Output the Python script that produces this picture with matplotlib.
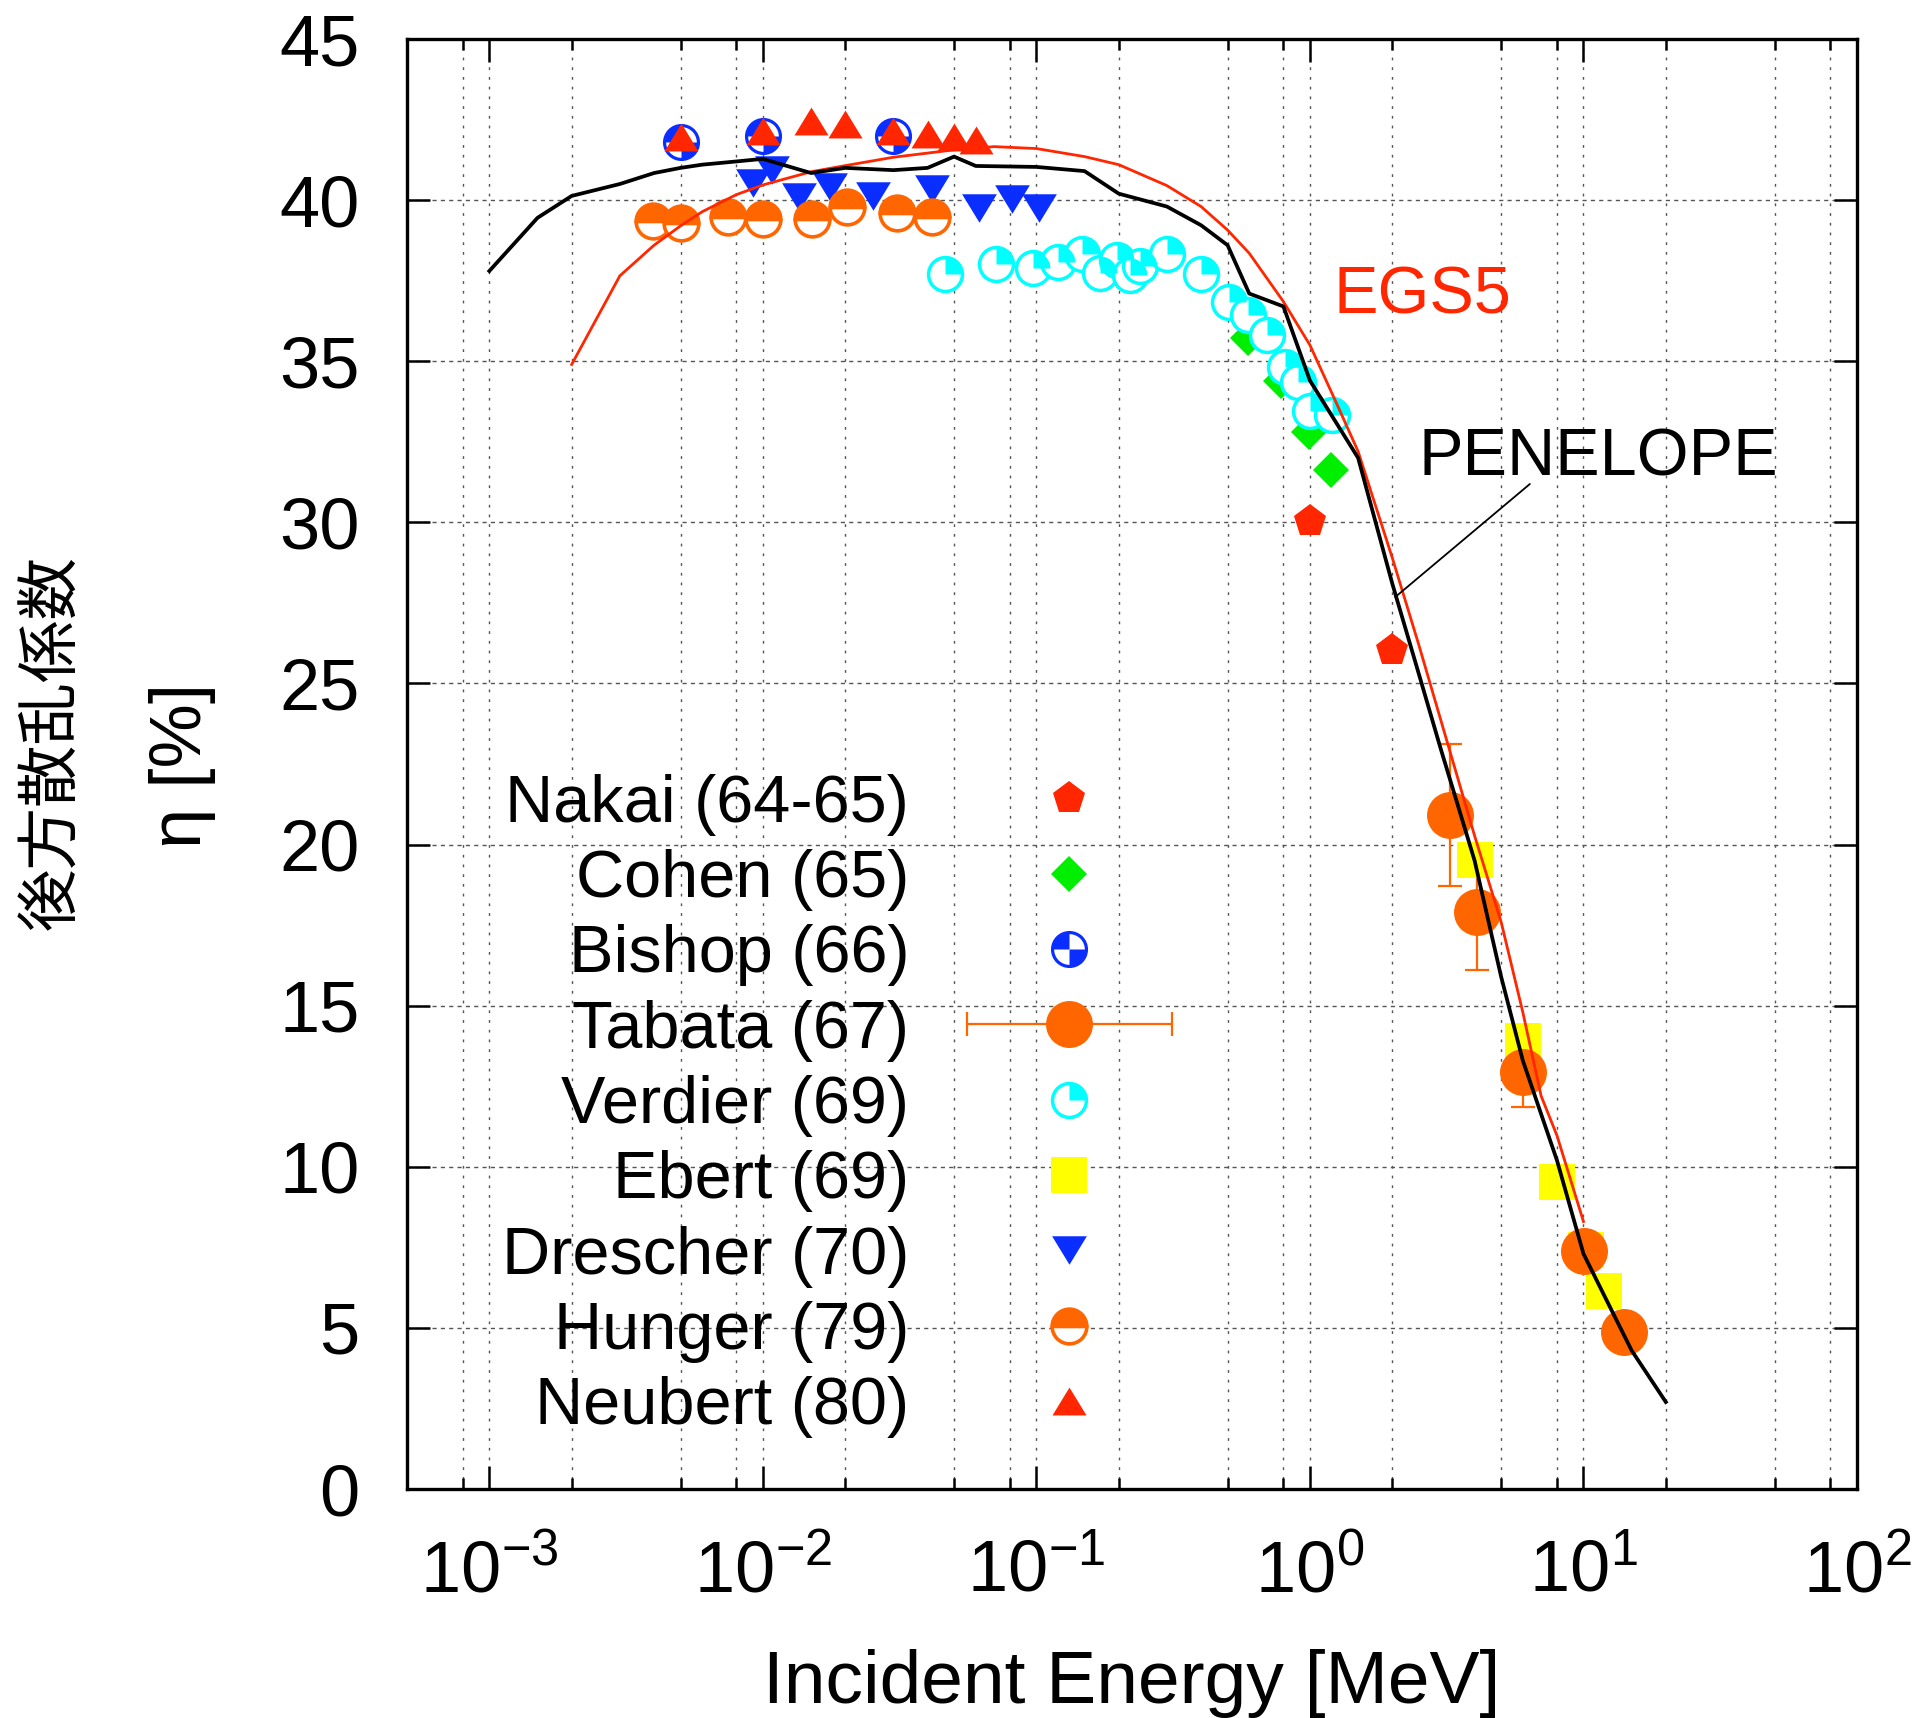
import numpy as np
import matplotlib
matplotlib.use("Agg")
import matplotlib.pyplot as plt
from matplotlib.path import Path
from matplotlib.ticker import LogLocator, NullFormatter
from matplotlib.container import ErrorbarContainer
from matplotlib.legend_handler import HandlerErrorbar, HandlerTuple

plt.rcParams['font.family'] = ['Liberation Sans', 'Noto Sans CJK JP', 'DejaVu Sans']
plt.rcParams['mathtext.fontset'] = 'custom'
plt.rcParams['mathtext.rm'] = 'Liberation Sans'
plt.rcParams['mathtext.it'] = 'Liberation Sans:italic'
plt.rcParams['mathtext.bf'] = 'Liberation Sans:bold'

# ---------------- data ----------------
penelope_E = [1e-3, 1.5e-3, 2e-3, 3e-3, 4e-3, 5e-3, 6e-3, 8e-3, 1e-2, 1.5e-2, 2e-2, 3e-2,
              4e-2, 5e-2, 6e-2, 0.1, 0.15, 0.2, 0.3, 0.4, 0.5, 0.6, 0.8, 1.0, 1.5, 2.0,
              2.5, 3.0, 4.0, 5.0, 6.0, 8.0, 10.0, 12.0, 15.0, 20.0]
penelope_eta = [37.8, 39.45, 40.13, 40.5, 40.84, 41.0, 41.1, 41.2, 41.28, 40.84, 41.0, 40.93,
                41.0, 41.35, 41.06, 41.03, 40.9, 40.2, 39.8, 39.22, 38.6, 37.1, 36.7, 34.4, 32.0, 28.1,
                25.3, 23.0, 19.5, 15.9, 13.3, 10.2, 7.3, 5.95, 4.3, 2.7]

egs5_E = [2e-3, 3e-3, 4e-3, 5e-3, 6e-3, 8e-3, 1e-2, 1.5e-2, 2e-2, 3e-2, 5e-2, 7e-2, 0.1, 0.15,
          0.2, 0.3, 0.4, 0.5, 0.6, 0.8, 1.0, 1.25, 1.5, 2.0, 2.5, 3.0, 4.0, 5.0, 6.0, 7.0, 8.0, 10.0]
egs5_eta = [34.9, 37.65, 38.6, 39.2, 39.64, 40.17, 40.47, 40.88, 41.07, 41.33, 41.56, 41.66, 41.6, 41.35,
            41.1, 40.45, 39.8, 39.07, 38.35, 36.85, 35.5, 33.7, 32.2, 28.9, 26.2, 23.9, 20.27, 17.6, 14.8, 12.2, 10.97, 8.3]

nakai_E = [1.0, 2.0]
nakai_eta = [30.04, 26.05]

cohen_E = [0.596, 0.785, 0.99, 1.195]
cohen_eta = [35.71, 34.4, 32.8, 31.63]

bishop_E = [5e-3, 1e-2, 3e-2]
bishop_eta = [41.8, 42.0, 42.0]

tabata_E = [3.24, 4.09, 6.03, 10.08, 14.04]
tabata_eta = [20.92, 17.92, 12.95, 7.39, 4.86]
tabata_err = [2.2, 1.8, 1.1, 0.5, 0.4]

verdier_E = [0.0463, 0.0713, 0.0975, 0.120, 0.1465, 0.171, 0.197, 0.220, 0.239, 0.30,
             0.40, 0.504, 0.596, 0.695, 0.811, 0.907, 1.0, 1.20]
verdier_eta = [37.71, 38.02, 37.88, 38.09, 38.33, 37.75, 38.14, 37.68, 37.94, 38.33,
               37.71, 36.85, 36.44, 35.82, 34.83, 34.37, 33.44, 33.34]

ebert_E = [4.01, 6.0, 7.98, 10.2, 11.9]
ebert_eta = [19.52, 13.91, 9.54, 7.42, 6.14]

drescher_E = [9.2e-3, 1.08e-2, 1.35e-2, 1.76e-2, 2.52e-2, 4.14e-2, 6.18e-2, 8.16e-2, 0.1026]
drescher_eta = [40.53, 40.94, 40.1, 40.4, 40.14, 40.36, 39.74, 40.02, 39.74]

hunger_E = [3.98e-3, 5e-3, 7.48e-3, 1.0e-2, 1.51e-2, 2.03e-2, 3.09e-2, 4.14e-2]
hunger_eta = [39.36, 39.3, 39.49, 39.41, 39.41, 39.8, 39.59, 39.49]

neubert_E = [5e-3, 1e-2, 1.5e-2, 2e-2, 3e-2, 4e-2, 5e-2, 6e-2]
neubert_eta = [41.96, 42.16, 42.47, 42.36, 42.16, 42.06, 41.95, 41.86]

labels = ['Nakai (64-65)', 'Cohen (65)', 'Bishop (66)', 'Tabata (67)', 'Verdier (69)',
          'Ebert (69)', 'Drescher (70)', 'Hunger (79)', 'Neubert (80)']

# ---------------- colours ----------------
RED = '#FF2600'
GREEN = '#00EE00'
BLUE = '#0A2EFF'
ORANGE = '#FF6600'
CYAN = '#00FFFF'
YELLOW = '#FFFF00'

# ---------------- markers ----------------
tri_up = Path([(0, 0.82), (-1, -0.82), (1, -0.82), (0, 0.82)], closed=True)
tri_dn = Path([(0, -0.82), (-1, 0.82), (1, 0.82), (0, -0.82)], closed=True)
quad_tr = Path.wedge(0, 90)
quad_bishop = Path.make_compound_path(Path.wedge(90, 180), Path.wedge(270, 360))

fig = plt.figure(figsize=(19.22, 17.18), dpi=100)
ax = fig.add_axes([407/1922, 1 - 1489/1718, 1450/1922, 1450/1718])
ax.set_xscale('log')
ax.set_xlim(5e-4, 100)
ax.set_ylim(0, 45)

# grid
ax.xaxis.set_major_locator(LogLocator(base=10, numticks=20))
ax.xaxis.set_minor_locator(LogLocator(base=10, subs=[2, 5, 8], numticks=20))
ax.xaxis.set_minor_formatter(NullFormatter())
ax.set_yticks(np.arange(0, 46, 5))
ax.grid(True, which='both', axis='x', color='#555555', linestyle=(0, (2, 5)), linewidth=1.0)
ax.grid(True, which='major', axis='y', color='#555555', linestyle=(0, (3, 3)), linewidth=1.0)
ax.set_axisbelow(True)

# data points
h_nakai, = ax.plot(nakai_E, nakai_eta, ls='none', marker='p', ms=24.5, color=RED, mec=RED, mew=0)
h_cohen, = ax.plot(cohen_E, cohen_eta, ls='none', marker='D', ms=18, color=GREEN, mec=GREEN, mew=0)
h_bish_o, = ax.plot(bishop_E, bishop_eta, ls='none', marker='o', ms=24.4, mfc='white', mec=BLUE, mew=2.3)
h_bish_q, = ax.plot(bishop_E, bishop_eta, ls='none', marker=quad_bishop, ms=24.4, mfc=BLUE, mec=BLUE, mew=0)
tab = ax.errorbar(tabata_E, tabata_eta, yerr=tabata_err, fmt='o', ms=33.8, color=ORANGE,
                  mec=ORANGE, ecolor=ORANGE, elinewidth=1.6, capsize=8.3, capthick=1.6)
tab[0].set_markeredgewidth(0)
h_ver_o, = ax.plot(verdier_E, verdier_eta, ls='none', marker='o', ms=24.4, mfc='white', mec=CYAN, mew=2.5)
h_ver_q, = ax.plot(verdier_E, verdier_eta, ls='none', marker=quad_tr, ms=24.4, mfc=CYAN, mec=CYAN, mew=0)
h_ebert, = ax.plot(ebert_E, ebert_eta, ls='none', marker='s', ms=26, color=YELLOW, mec=YELLOW, mew=0)
h_dres, = ax.plot(drescher_E, drescher_eta, ls='none', marker=tri_dn, ms=25, color=BLUE, mec=BLUE, mew=0)
h_hung, = ax.plot(hunger_E, hunger_eta, ls='none', marker='o', ms=25, fillstyle='top', mfc=ORANGE,
                  mfcalt='white', mec=ORANGE, mew=2.6)
h_neu, = ax.plot(neubert_E, neubert_eta, ls='none', marker=tri_up, ms=24.5, color=RED, mec=RED, mew=0)

# calculation curves
ax.plot(egs5_E, egs5_eta, color=RED, lw=2.0, zorder=5)
ax.plot(penelope_E, penelope_eta, color='black', lw=2.7, zorder=6)

ax.text(1.22, 37.0, 'EGS5', color=RED, fontsize=48, ha='left', va='center', zorder=7)
ax.text(2.49, 31.97, 'PENELOPE', color='black', fontsize=48, ha='left', va='center', zorder=7)
ax.annotate('', xy=(2.05, 27.68), xytext=(6.37, 31.19),
            arrowprops=dict(arrowstyle='-', color='black', lw=1.3, shrinkA=0, shrinkB=0), zorder=7)

# legend
tab_proxy = ax.errorbar([np.nan], [np.nan], xerr=[1.0], fmt='o', ms=33.8, color=ORANGE, mec=ORANGE,
                        ecolor=ORANGE, elinewidth=1.6, capsize=8.3, capthick=1.6)
tab_proxy[0].set_markeredgewidth(0)
handles = [h_nakai, h_cohen, (h_bish_o, h_bish_q), tab_proxy, (h_ver_o, h_ver_q), h_ebert,
           h_dres, h_hung, h_neu]
leg = ax.legend(handles, labels, loc='upper right', bbox_to_anchor=(1136/1922, 1 - 773.5/1718),
                bbox_transform=fig.transFigure, markerfirst=False, frameon=False, fontsize=48,
                handlelength=2.0, handletextpad=1.4, labelspacing=0.2, borderpad=0, borderaxespad=0,
                numpoints=1,
                handler_map={ErrorbarContainer: HandlerErrorbar(xerr_size=1.54),
                             tuple: HandlerTuple(ndivide=1)})

# axes styling
for s in ax.spines.values():
    s.set_linewidth(2.4)
ax.tick_params(which='both', direction='in', top=True, right=True, width=1.8)
ax.tick_params(which='major', length=16.5)
ax.tick_params(which='minor', length=8)
ax.tick_params(axis='x', which='major', labelsize=52, pad=36)
ax.tick_params(axis='y', which='major', labelsize=52, pad=34)

ax.set_xlabel('Incident Energy [MeV]', fontsize=54, labelpad=30)

fig.text(52/1922, 1 - 742/1718, '後方散乱係数', rotation=90, fontsize=45,
         family=['Noto Sans CJK JP', 'DejaVu Sans'], ha='center', va='center')
fig.text(182/1922, 1 - 765/1718, 'η [%]', rotation=90, fontsize=52, ha='center', va='center')

fig.savefig('out.png', dpi=100)
